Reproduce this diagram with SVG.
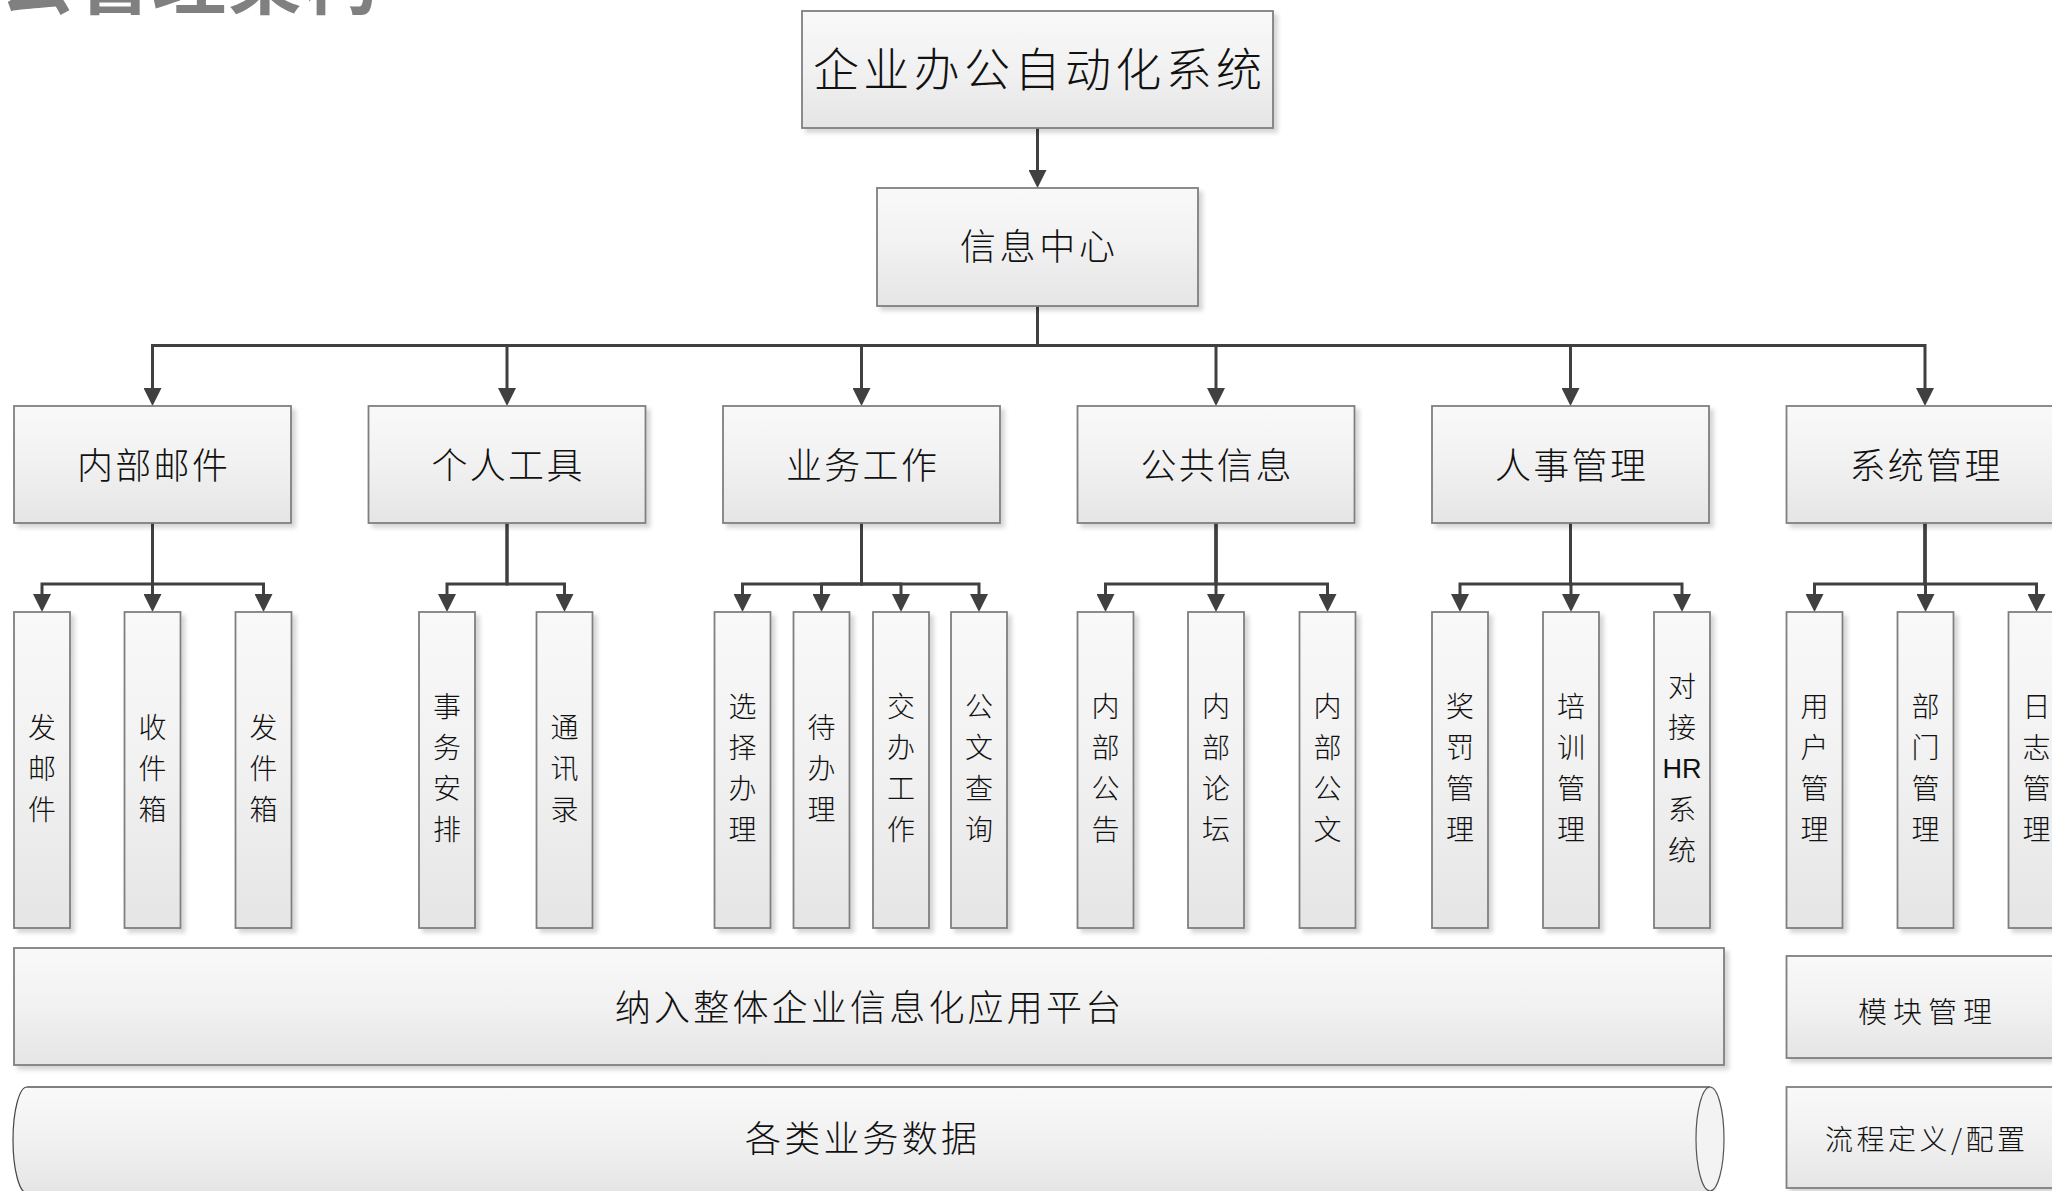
<svg xmlns="http://www.w3.org/2000/svg" width="2052" height="1191" viewBox="0 0 2052 1191">
<defs>
<linearGradient id="gBox" x1="0" y1="0" x2="0" y2="1">
<stop offset="0" stop-color="#f9f9f9"/>
<stop offset="0.5" stop-color="#f1f1f1"/>
<stop offset="1" stop-color="#e5e5e5"/>
</linearGradient>
<filter id="sh" x="-10%" y="-10%" width="140%" height="130%">
<feDropShadow dx="4" dy="4" stdDeviation="2" flood-color="#000" flood-opacity="0.16"/>
</filter>
<marker id="arr" viewBox="0 0 18 18" refX="8" refY="9" markerWidth="18" markerHeight="18" markerUnits="userSpaceOnUse" orient="auto">
<path d="M0,0 L18,9 L0,18 Z" fill="#404040"/>
</marker>
</defs>
<style>
.box{fill:url(#gBox);stroke:#7f7f7f;stroke-width:1.8;filter:url(#sh)}
.t{font-family:"Noto Sans CJK SC","Liberation Sans",sans-serif;fill:#111;text-anchor:middle;font-weight:300}
.l2{font-size:36px;letter-spacing:2.3px}
.lf{font-size:28px}
.hr{font-family:"Liberation Sans",sans-serif;font-size:27px}
.conn path{fill:none;stroke:#404040;stroke-width:3;marker-end:url(#arr)}
</style>
<rect width="2052" height="1191" fill="#fff"/>
<text x="0" y="8" font-family="'Noto Sans CJK SC',sans-serif" font-weight="700" font-size="74" letter-spacing="2" fill="#808080">公管理架构</text>

<g id="connectors" class="conn">
<path d="M1037.5,128 V178"/>
<path d="M1037.5,306 V345.5 H152.5 V396"/>
<path d="M1037.5,306 V345.5 H507 V396"/>
<path d="M1037.5,306 V345.5 H861.5 V396"/>
<path d="M1037.5,306 V345.5 H1216 V396"/>
<path d="M1037.5,306 V345.5 H1570.5 V396"/>
<path d="M1037.5,306 V345.5 H1925 V396"/>
<path d="M152.5,523 V584 H42 V602"/>
<path d="M152.5,523 V584 H152.5 V602"/>
<path d="M152.5,523 V584 H263.5 V602"/>
<path d="M507,523 V584 H447 V602"/>
<path d="M507,523 V584 H564.5 V602"/>
<path d="M861.5,523 V584 H742.5 V602"/>
<path d="M861.5,523 V584 H821.5 V602"/>
<path d="M861.5,523 V584 H901 V602"/>
<path d="M861.5,523 V584 H979 V602"/>
<path d="M1216,523 V584 H1105.5 V602"/>
<path d="M1216,523 V584 H1216 V602"/>
<path d="M1216,523 V584 H1327.5 V602"/>
<path d="M1570.5,523 V584 H1460 V602"/>
<path d="M1570.5,523 V584 H1571 V602"/>
<path d="M1570.5,523 V584 H1682 V602"/>
<path d="M1925,523 V584 H1814.5 V602"/>
<path d="M1925,523 V584 H1925.5 V602"/>
<path d="M1925,523 V584 H2036.5 V602"/>
</g>

<g id="root">
<rect class="box" x="802" y="11" width="471" height="117"/>
<text class="t" x="1039.7" y="86" font-size="46" letter-spacing="4.4">企业办公自动化系统</text>
</g>
<g id="info-center">
<rect class="box" x="877" y="188" width="321" height="118"/>
<text class="t" x="1039.3" y="260" font-size="36" letter-spacing="3.7">信息中心</text>
</g>

<g id="mail">
<rect class="box" x="14" y="406" width="277" height="117"/>
<text class="t l2" x="153.6" y="478.7">内部邮件</text>
</g>
<g id="personal">
<rect class="box" x="368.5" y="406" width="277" height="117"/>
<text class="t l2" x="508.1" y="478.7">个人工具</text>
</g>
<g id="business">
<rect class="box" x="723" y="406" width="277" height="117"/>
<text class="t l2" x="862.6" y="478.7">业务工作</text>
</g>
<g id="public">
<rect class="box" x="1077.5" y="406" width="277" height="117"/>
<text class="t l2" x="1217.1" y="478.7">公共信息</text>
</g>
<g id="hr">
<rect class="box" x="1432" y="406" width="277" height="117"/>
<text class="t l2" x="1571.6" y="478.7">人事管理</text>
</g>
<g id="system">
<rect class="box" x="1786.5" y="406" width="277" height="117"/>
<text class="t l2" x="1926.1" y="478.7">系统管理</text>
</g>

<g id="leaf-send">
<rect class="box" x="14" y="612" width="56" height="316"/>
<text class="t lf"><tspan x="42" y="737.6">发</tspan><tspan x="42" y="778.6">邮</tspan><tspan x="42" y="819.6">件</tspan></text>
</g>
<g id="leaf-inbox">
<rect class="box" x="124.5" y="612" width="56" height="316"/>
<text class="t lf"><tspan x="152.5" y="737.6">收</tspan><tspan x="152.5" y="778.6">件</tspan><tspan x="152.5" y="819.6">箱</tspan></text>
</g>
<g id="leaf-outbox">
<rect class="box" x="235.5" y="612" width="56" height="316"/>
<text class="t lf"><tspan x="263.5" y="737.6">发</tspan><tspan x="263.5" y="778.6">件</tspan><tspan x="263.5" y="819.6">箱</tspan></text>
</g>
<g id="leaf-schedule">
<rect class="box" x="419" y="612" width="56" height="316"/>
<text class="t lf"><tspan x="447" y="717.1">事</tspan><tspan x="447" y="758.1">务</tspan><tspan x="447" y="799.1">安</tspan><tspan x="447" y="840.1">排</tspan></text>
</g>
<g id="leaf-contacts">
<rect class="box" x="536.5" y="612" width="56" height="316"/>
<text class="t lf"><tspan x="564.5" y="737.6">通</tspan><tspan x="564.5" y="778.6">讯</tspan><tspan x="564.5" y="819.6">录</tspan></text>
</g>
<g id="leaf-select">
<rect class="box" x="714.5" y="612" width="56" height="316"/>
<text class="t lf"><tspan x="742.5" y="717.1">选</tspan><tspan x="742.5" y="758.1">择</tspan><tspan x="742.5" y="799.1">办</tspan><tspan x="742.5" y="840.1">理</tspan></text>
</g>
<g id="leaf-todo">
<rect class="box" x="793.5" y="612" width="56" height="316"/>
<text class="t lf"><tspan x="821.5" y="737.6">待</tspan><tspan x="821.5" y="778.6">办</tspan><tspan x="821.5" y="819.6">理</tspan></text>
</g>
<g id="leaf-assign">
<rect class="box" x="873" y="612" width="56" height="316"/>
<text class="t lf"><tspan x="901" y="717.1">交</tspan><tspan x="901" y="758.1">办</tspan><tspan x="901" y="799.1">工</tspan><tspan x="901" y="840.1">作</tspan></text>
</g>
<g id="leaf-docquery">
<rect class="box" x="951" y="612" width="56" height="316"/>
<text class="t lf"><tspan x="979" y="717.1">公</tspan><tspan x="979" y="758.1">文</tspan><tspan x="979" y="799.1">查</tspan><tspan x="979" y="840.1">询</tspan></text>
</g>
<g id="leaf-notice">
<rect class="box" x="1077.5" y="612" width="56" height="316"/>
<text class="t lf"><tspan x="1105.5" y="717.1">内</tspan><tspan x="1105.5" y="758.1">部</tspan><tspan x="1105.5" y="799.1">公</tspan><tspan x="1105.5" y="840.1">告</tspan></text>
</g>
<g id="leaf-forum">
<rect class="box" x="1188" y="612" width="56" height="316"/>
<text class="t lf"><tspan x="1216" y="717.1">内</tspan><tspan x="1216" y="758.1">部</tspan><tspan x="1216" y="799.1">论</tspan><tspan x="1216" y="840.1">坛</tspan></text>
</g>
<g id="leaf-doc">
<rect class="box" x="1299.5" y="612" width="56" height="316"/>
<text class="t lf"><tspan x="1327.5" y="717.1">内</tspan><tspan x="1327.5" y="758.1">部</tspan><tspan x="1327.5" y="799.1">公</tspan><tspan x="1327.5" y="840.1">文</tspan></text>
</g>
<g id="leaf-reward">
<rect class="box" x="1432" y="612" width="56" height="316"/>
<text class="t lf"><tspan x="1460" y="717.1">奖</tspan><tspan x="1460" y="758.1">罚</tspan><tspan x="1460" y="799.1">管</tspan><tspan x="1460" y="840.1">理</tspan></text>
</g>
<g id="leaf-training">
<rect class="box" x="1543" y="612" width="56" height="316"/>
<text class="t lf"><tspan x="1571" y="717.1">培</tspan><tspan x="1571" y="758.1">训</tspan><tspan x="1571" y="799.1">管</tspan><tspan x="1571" y="840.1">理</tspan></text>
</g>
<g id="leaf-hrsys">
<rect class="box" x="1654" y="612" width="56" height="316"/>
<text class="t lf"><tspan x="1682" y="696.6">对</tspan><tspan x="1682" y="737.6">接</tspan><tspan class="hr" x="1682" y="777.7">HR</tspan><tspan x="1682" y="819.6">系</tspan><tspan x="1682" y="860.6">统</tspan></text>
</g>
<g id="leaf-user">
<rect class="box" x="1786.5" y="612" width="56" height="316"/>
<text class="t lf"><tspan x="1814.5" y="717.1">用</tspan><tspan x="1814.5" y="758.1">户</tspan><tspan x="1814.5" y="799.1">管</tspan><tspan x="1814.5" y="840.1">理</tspan></text>
</g>
<g id="leaf-dept">
<rect class="box" x="1897.5" y="612" width="56" height="316"/>
<text class="t lf"><tspan x="1925.5" y="717.1">部</tspan><tspan x="1925.5" y="758.1">门</tspan><tspan x="1925.5" y="799.1">管</tspan><tspan x="1925.5" y="840.1">理</tspan></text>
</g>
<g id="leaf-log">
<rect class="box" x="2008.5" y="612" width="56" height="316"/>
<text class="t lf"><tspan x="2036.5" y="717.1">日</tspan><tspan x="2036.5" y="758.1">志</tspan><tspan x="2036.5" y="799.1">管</tspan><tspan x="2036.5" y="840.1">理</tspan></text>
</g>

<g id="platform">
<rect class="box" x="14" y="948" width="1710" height="117"/>
<text class="t" x="869.6" y="1021" font-size="36" letter-spacing="3.2">纳入整体企业信息化应用平台</text>
</g>
<g id="module-mgmt">
<rect class="box" x="1786.5" y="956" width="277" height="102"/>
<text class="t" x="1928" y="1022.5" font-size="29" letter-spacing="6">模块管理</text>
</g>
<g id="data">
<path d="M27,1087 H1710 V1193 H27 A14,53 0 0 1 27,1087 Z" fill="url(#gBox)" filter="url(#sh)"/>
<path d="M27,1087 H1710" fill="none" stroke="#7f7f7f" stroke-width="2"/>
<path d="M27,1193 A14,53 0 0 1 27,1087" fill="none" stroke="#444" stroke-width="1.2"/>
<ellipse cx="1710" cy="1139" rx="14" ry="52" fill="#f3f3f3" stroke="#555" stroke-width="1.2"/>
<text class="t" x="862.6" y="1152" font-size="36" letter-spacing="3.2">各类业务数据</text>
</g>
<g id="flow-config">
<rect class="box" x="1786.5" y="1087" width="277" height="101"/>
<text class="t" x="1926.7" y="1149.6" font-size="28" letter-spacing="3.5">流程定义/配置</text>
</g>
</svg>
